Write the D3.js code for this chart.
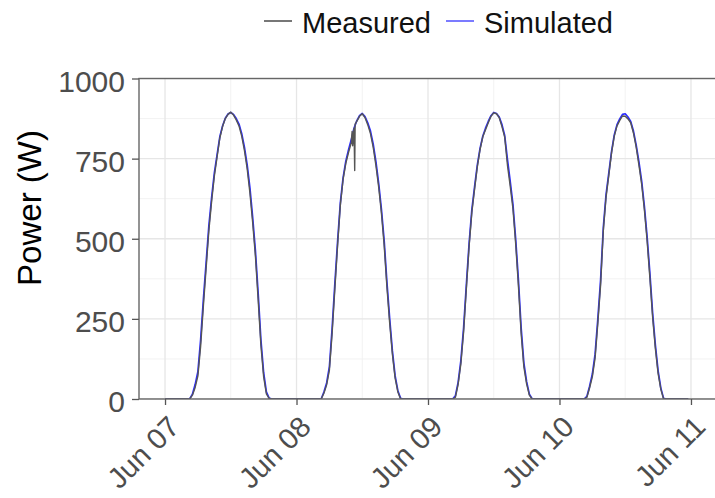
<!DOCTYPE html>
<html>
<head>
<meta charset="utf-8">
<script src="https://cdn.jsdelivr.net/npm/d3@7"></script>
<style>
  html, body { margin: 0; padding: 0; background: #fff; }
  svg { display: block; font-family: "Liberation Sans", Arial, sans-serif; }
</style>
</head>
<body>
<svg id="chart" width="715" height="498"></svg>
<script>
// Sample days and the hour-of-day of each sample
const days = ["2019-06-07", "2019-06-08", "2019-06-09", "2019-06-10"];
const hours = [0, 4.5, 5, 5.5, 6, 6.5, 7, 7.5, 8, 8.5, 9, 9.5, 10, 10.5, 11, 11.5, 12,
               12.5, 13, 13.5, 14, 14.5, 15, 15.5, 16, 16.5, 17, 17.5, 18, 18.5, 19, 19.5, 23.5];

// Power (W), one array per day
const measuredJun07 = [0, 0, 12, 36, 72, 165, 290, 408, 525, 616, 695, 755, 814, 850, 875, 888, 895,
                       886, 871, 852, 820, 775, 718, 642, 550, 446, 310, 168, 70, 16, 2, 0, 0];
const measuredJun08 = [0, 0, 18, 44, 90, 205, 345, 480, 605, 685, 735, 770, 800, 845, 866, 882, 890,
                       878, 856, 828, 785, 728, 661, 580, 480, 350, 238, 140, 65, 22, 0, 0, 0];
const measuredJun09 = [0, 0, 5, 46, 110, 210, 345, 475, 582, 655, 724, 778, 818, 840, 862, 882, 893,
                       890, 878, 850, 817, 730, 665, 595, 485, 355, 205, 100, 47, 12, 0, 0, 0];
const measuredJun10 = [0, 0, 5, 35, 70, 128, 237, 355, 525, 630, 698, 768, 820, 852, 869, 883, 882,
                       874, 862, 830, 786, 730, 670, 590, 492, 378, 255, 158, 80, 30, 0, 0, 0];

// Short sensor spike in the morning of Jun 08: [hour, W]
const spikeJun08 = [[10.15, 835], [10.25, 790], [10.62, 713], [10.7, 858]];

const simulatedJun07 = [0, 0, 15, 45, 85, 185, 310, 425, 540, 628, 705, 762, 818, 852, 876, 889, 894,
                        888, 875, 858, 828, 785, 730, 658, 566, 462, 330, 185, 82, 22, 3, 0, 0];
const simulatedJun08 = [0, 0, 22, 50, 100, 220, 360, 492, 612, 690, 742, 778, 810, 845, 868, 884, 891,
                        881, 862, 836, 795, 740, 672, 592, 494, 365, 252, 150, 72, 26, 2, 0, 0];
const simulatedJun09 = [0, 0, 10, 52, 120, 222, 356, 485, 590, 662, 730, 782, 820, 845, 866, 884, 894,
                        891, 880, 856, 822, 748, 680, 608, 500, 372, 222, 112, 54, 15, 1, 0, 0];
const simulatedJun10 = [0, 0, 8, 40, 78, 140, 250, 370, 535, 638, 705, 772, 824, 856, 874, 888, 890,
                        880, 866, 836, 792, 740, 680, 600, 505, 392, 268, 168, 88, 34, 2, 0, 0];

const tickDays = ["2019-06-07", "2019-06-08", "2019-06-09", "2019-06-10", "2019-06-11"];
const tickLabels = ["Jun 07", "Jun 08", "Jun 09", "Jun 10", "Jun 11"];
const yTicks = [0, 250, 500, 750, 1000];
const yMinor = [125, 375, 625, 875];
const seriesNames = ["Measured", "Simulated"];
const seriesColors = ["#555555", "#2b2bff"];

// ---- build point lists ----
const parseDay = d3.timeParse("%Y-%m-%d");
function at(day, h) {
  const t = parseDay(day);
  return new Date(t.getTime() + h * 3600 * 1000);
}
function series(perDay, extra) {
  const pts = [];
  perDay.forEach((vals, i) => {
    hours.forEach((h, j) => pts.push({ t: at(days[i], h), v: vals[j] }));
    if (extra && extra[i]) extra[i].forEach(([h, v]) => pts.push({ t: at(days[i], h), v }));
  });
  return pts.sort((a, b) => a.t - b.t);
}
const measured = series([measuredJun07, measuredJun08, measuredJun09, measuredJun10],
                        [null, spikeJun08, null, null]);
const simulated = series([simulatedJun07, simulatedJun08, simulatedJun09, simulatedJun10]);

// ---- layout ----
const svg = d3.select("#chart");
const pLeft = 139, pRight = 717, pTop = 78.5, pBottom = 399;
const font = "Liberation Sans, Arial, sans-serif";

const x = d3.scaleTime()
  .domain([new Date(2019, 5, 6, 19, 15), new Date(2019, 5, 11, 4, 45)])
  .range([pLeft, pRight]);
const y = d3.scaleLinear().domain([0, 1000]).range([pBottom, pTop]);

svg.append("defs").append("clipPath").attr("id", "panel")
  .append("rect").attr("x", pLeft).attr("y", pTop)
  .attr("width", pRight - pLeft).attr("height", pBottom - pTop);

const grid = svg.append("g").attr("clip-path", "url(#panel)");
// minor grid
const noonTicks = ["2019-06-06"].concat(days).map(d => at(d, 12));
grid.selectAll("line.vminor").data(noonTicks).join("line")
  .attr("x1", d => x(d)).attr("x2", d => x(d)).attr("y1", pTop).attr("y2", pBottom)
  .attr("stroke", "#f0f0f0").attr("stroke-width", 0.9);
grid.selectAll("line.hminor").data(yMinor).join("line")
  .attr("x1", pLeft).attr("x2", pRight).attr("y1", d => y(d)).attr("y2", d => y(d))
  .attr("stroke", "#f0f0f0").attr("stroke-width", 0.9);
// major grid
grid.selectAll("line.vmajor").data(tickDays.map(parseDay)).join("line")
  .attr("x1", d => x(d)).attr("x2", d => x(d)).attr("y1", pTop).attr("y2", pBottom)
  .attr("stroke", "#e6e6e6").attr("stroke-width", 1.3);
grid.selectAll("line.hmajor").data(yTicks).join("line")
  .attr("x1", pLeft).attr("x2", pRight).attr("y1", d => y(d)).attr("y2", d => y(d))
  .attr("stroke", "#e6e6e6").attr("stroke-width", 1.3);

// data lines
const line = d3.line().x(d => x(d.t)).y(d => y(d.v));
const plot = svg.append("g").attr("clip-path", "url(#panel)");
plot.append("path").datum(simulated).attr("d", line)
  .attr("fill", "none").attr("stroke", seriesColors[1]).attr("stroke-width", 1.7)
  .attr("stroke-linejoin", "round");
plot.append("path").datum(measured).attr("d", line)
  .attr("fill", "none").attr("stroke", seriesColors[0]).attr("stroke-width", 1.4)
  .attr("stroke-linejoin", "round");

// panel border
svg.append("rect").attr("x", pLeft).attr("y", pTop)
  .attr("width", pRight - pLeft).attr("height", pBottom - pTop)
  .attr("fill", "none").attr("stroke", "#666").attr("stroke-width", 1.4);

// y axis
const yAxis = svg.append("g").attr("transform", `translate(${pLeft},0)`)
  .call(d3.axisLeft(y).tickValues(yTicks).tickSize(7).tickPadding(7).tickFormat(d3.format("d")));
yAxis.select(".domain").remove();
yAxis.selectAll(".tick line").attr("stroke", "#555").attr("stroke-width", 1.3);
yAxis.selectAll(".tick text").attr("fill", "#4d4d4d").attr("dy", "0.42em")
  .style("font-size", "30px").style("font-family", font);

// x axis
const xAxis = svg.append("g").attr("transform", `translate(0,${pBottom})`)
  .call(d3.axisBottom(x).tickValues(tickDays.map(parseDay)).tickSize(6)
        .tickFormat((d, i) => tickLabels[i]));
xAxis.select(".domain").remove();
xAxis.selectAll(".tick line").attr("stroke", "#555").attr("stroke-width", 1.3);
xAxis.selectAll(".tick text")
  .attr("fill", "#4d4d4d").style("font-size", "29px").style("font-family", font)
  .attr("text-anchor", "end").attr("y", 0).attr("dy", "0.71em")
  .attr("transform", "translate(1,15) rotate(-45)");

// y axis title
svg.append("text").attr("transform", "translate(41,208) rotate(-90)")
  .attr("text-anchor", "middle").attr("fill", "#000")
  .style("font-size", "33px").style("font-family", font).text("Power (W)");

// legend
const legend = svg.append("g");
const legendItems = [
  { name: seriesNames[0], color: seriesColors[0], x0: 264 },
  { name: seriesNames[1], color: "#5a5aff", x0: 446 }
];
legendItems.forEach(it => {
  legend.append("line").attr("x1", it.x0).attr("x2", it.x0 + 28)
    .attr("y1", 21).attr("y2", 21).attr("stroke", it.color).attr("stroke-width", 1.6);
  legend.append("text").attr("x", it.x0 + 38).attr("y", 21).attr("dy", "0.42em")
    .attr("fill", "#111").style("font-size", "29px").style("font-family", font).text(it.name);
});
</script>
</body>
</html>
